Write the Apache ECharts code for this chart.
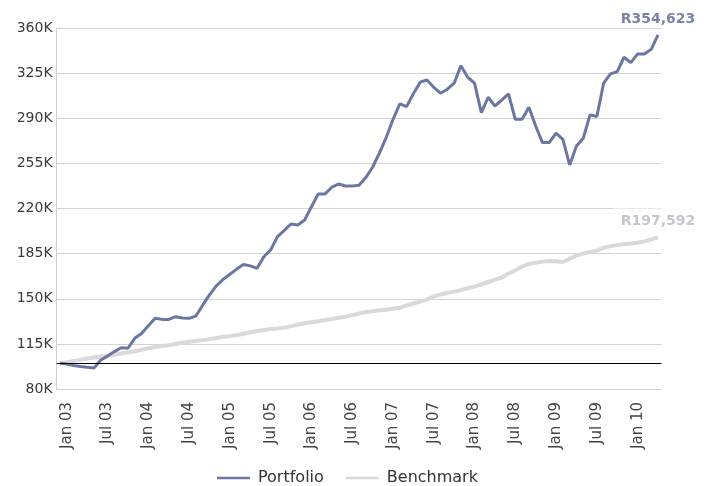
<!DOCTYPE html>
<html>
<head>
<meta charset="utf-8">
<script src="https://cdn.jsdelivr.net/npm/echarts@6/dist/echarts.min.js"></script>
<style>
  html, body { margin: 0; padding: 0; background: #fff; }
  #chart { width: 712px; height: 486px; }
</style>
</head>
<body>
<div id="chart"></div>
<script>
// monthly values, Dec 02 .. Apr 10 (in Rand, thousands)
const monthNames = ['Jan', 'Feb', 'Mar', 'Apr', 'May', 'Jun', 'Jul', 'Aug', 'Sep', 'Oct', 'Nov', 'Dec'];
const startYear = 2002, startMonth = 11, monthCount = 89;

const portfolio = [
  100, 99.3, 98.3, 97.5, 96.8, 96.2, 102.5, 105.5, 109, 112,
  111.6, 119.3, 123, 129, 134.8, 134, 134, 136.1, 135, 134.8,
  136.6, 145, 153, 160, 165, 169, 173, 176.5, 175.5, 173.6,
  182.6, 187.8, 198.2, 203, 208, 207.2, 211.1, 221.4, 231.3, 231.3,
  236.5, 239, 237.5, 237.5, 238, 244, 252, 263, 275, 289,
  301.1, 299, 309, 318, 319.7, 314, 309.4, 312.5, 317.2, 330.8,
  321.8, 317.2, 294.3, 306.3, 299.5, 304, 308.9, 289.2, 289.2, 298.5,
  284, 271.1, 271.1, 278.4, 273.7, 253.8, 268.5, 274.5, 292.6, 291.3,
  317.2, 324.4, 326.2, 337.3, 333.1, 339.9, 339.9, 343.5, 354.623
];

const benchmark = [
  100, 100.8, 101.7, 102.6, 103.6, 104.5, 105.2, 105.8, 106.6, 107.5,
  108.3, 109.3, 110.5, 111.6, 112.6, 113.3, 114, 114.9, 115.9, 116.7,
  117.3, 117.9, 118.7, 119.5, 120.5, 121, 121.8, 122.9, 124, 125,
  125.8, 126.5, 127, 127.6, 128.8, 130, 131, 131.8, 132.6, 133.5,
  134.3, 135.2, 136.1, 137.3, 138.5, 139.6, 140.4, 141, 141.5, 142.2,
  143, 144.8, 146.3, 147.8, 149.5, 151.8, 153.3, 154.5, 155.5, 156.7,
  158.1, 159.5, 161.2, 163, 164.8, 166.5, 169.5, 172, 175, 177,
  178, 178.8, 179.3, 179, 178.5, 181, 183.5, 185, 186.3, 187.3,
  189.5, 190.8, 191.6, 192.3, 192.8, 193.4, 194.5, 196, 197.592
];

const yTicks = { min: 80000, max: 360000, step: 35000 };

// category labels like "Jan 03"
const months = [];
for (let i = 0; i < monthCount; i++) {
  const m = (startMonth + i) % 12;
  const y = startYear + Math.floor((startMonth + i) / 12);
  months.push(monthNames[m] + ' ' + String(y % 100).padStart(2, '0'));
}

const FONT = 'DejaVu Sans';

// last point carries the "R354,623" style label
function toSeriesData(values, labelColor) {
  return values.map(function (v, i) {
    const val = Math.round(v * 1000);
    if (i !== values.length - 1) return val;
    return {
      value: val,
      label: {
        show: true,
        position: 'top',
        distance: 9,
        formatter: 'R' + val.toLocaleString('en-US'),
        color: labelColor,
        fontFamily: FONT,
        fontSize: 14,
        fontWeight: 'bold',
        backgroundColor: '#fff',
        padding: [6, 7, 0, 7]
      }
    };
  });
}

const chart = echarts.init(document.getElementById('chart'));
chart.setOption({
  animation: false,
  backgroundColor: '#fff',
  grid: { left: 56.6, right: 50.6, top: 28, bottom: 97 },
  legend: {
    left: 212,
    top: 465,
    icon: 'rect',
    itemWidth: 33,
    itemHeight: 2.5,
    itemGap: 22,
    textStyle: { fontFamily: FONT, fontSize: 16, color: '#333', padding: [0, 0, 0, 3] },
    data: ['Portfolio', 'Benchmark']
  },
  xAxis: {
    type: 'category',
    data: months,
    boundaryGap: true,
    axisLine: { lineStyle: { color: '#d0d0d0' } },
    axisTick: { show: false },
    axisLabel: {
      rotate: 90,
      margin: 13,
      fontFamily: FONT,
      fontSize: 15,
      color: '#444',
      interval: function (idx, val) {
        return val.indexOf('Jan') === 0 || val.indexOf('Jul') === 0;
      }
    },
    splitLine: { show: false }
  },
  yAxis: {
    type: 'value',
    min: yTicks.min,
    max: yTicks.max,
    interval: yTicks.step,
    axisLine: { show: true, lineStyle: { color: '#d0d0d0' } },
    axisTick: { show: false },
    axisLabel: {
      margin: 4,
      fontFamily: FONT,
      fontSize: 14,
      color: '#3a3a3a',
      formatter: function (v) { return (v / 1000) + 'K'; }
    },
    splitLine: { lineStyle: { color: '#d3d3d3', width: 1 } }
  },
  series: [
    {
      name: 'Benchmark',
      type: 'line',
      symbol: 'circle',
      symbolSize: 0,
      showSymbol: true,
      showAllSymbol: true,
      z: 2,
      data: toSeriesData(benchmark, '#c3c6cd'),
      lineStyle: { color: '#d9d9d9', width: 4 },
      itemStyle: { color: '#d9d9d9' }
    },
    {
      name: 'Portfolio',
      type: 'line',
      symbol: 'circle',
      symbolSize: 0,
      showSymbol: true,
      showAllSymbol: true,
      z: 3,
      data: toSeriesData(portfolio, '#7a83a8'),
      lineStyle: { color: '#6b76a3', width: 3 },
      itemStyle: { color: '#6b76a3' },
      markLine: {
        silent: true,
        symbol: 'none',
        label: { show: false },
        lineStyle: { color: '#000', width: 1, type: 'solid' },
        data: [{ yAxis: 100000 }]
      }
    }
  ]
});
window.addEventListener('resize', function () { chart.resize(); });
</script>
</body>
</html>
